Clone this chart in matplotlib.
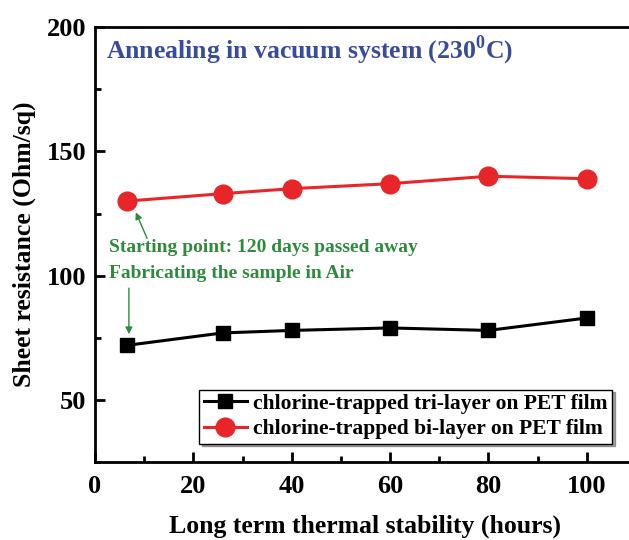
import numpy as np
import matplotlib
matplotlib.use("Agg")
import matplotlib.pyplot as plt
from matplotlib.ticker import MultipleLocator

hours = [6.5, 26, 40, 60, 80, 100]
tri_layer = [72, 77, 78, 79, 78, 83]
bi_layer = [130, 133, 135, 137, 140, 139]

plt.rcParams['font.family'] = ['Liberation Serif', 'DejaVu Serif']
plt.rcParams['font.weight'] = 'bold'
plt.rcParams['mathtext.fontset'] = 'custom'
plt.rcParams['mathtext.bf'] = 'Liberation Serif:bold'
plt.rcParams['mathtext.rm'] = 'Liberation Serif:bold'

fig = plt.figure(figsize=(6.29, 5.4), dpi=100)
ax = fig.add_axes([0.151, 0.144, 0.86, 0.806])

ax.plot(hours, tri_layer, color='black', lw=2.2, marker='s', ms=10.5,
        label='chlorine-trapped tri-layer on PET film')
ax.plot(hours, bi_layer, color='#e8262a', lw=2.2, marker='o', ms=13.5,
        label='chlorine-trapped bi-layer on PET film')

ax.set_xlim(0, 110)
ax.set_ylim(25, 200)
ax.xaxis.set_major_locator(MultipleLocator(20))
ax.xaxis.set_minor_locator(MultipleLocator(10))
ax.yaxis.set_major_locator(MultipleLocator(50))
ax.yaxis.set_minor_locator(MultipleLocator(25))
ax.tick_params(which='both', direction='in', width=2, labelsize=19)
ax.tick_params(axis='x', pad=9)
ax.tick_params(axis='y', pad=6)
ax.tick_params(which='major', length=7)
ax.tick_params(which='minor', length=4)
for sp in ax.spines.values():
    sp.set_linewidth(2)

ax.set_xlabel('Long term thermal stability (hours)', fontsize=18.5, fontweight='bold', labelpad=12)
ax.set_ylabel('Sheet resistance (Ohm/sq)', fontsize=18.5, fontweight='bold', labelpad=8)

ax.text(2.3, 190.5, r'Annealing in vacuum system (230$^{\mathbf{0}}$C)', color='#3a4a9c',
        fontsize=18.5, fontweight='bold', va='center')

green = '#2e8b3e'
ax.text(2.9, 111.5, 'Starting point: 120 days passed away', color=green, fontsize=14, fontweight='bold', va='center')
ax.text(2.9, 101, 'Fabricating the sample in Air', color=green, fontsize=14, fontweight='bold', va='center')
ax.annotate('', xy=(8.3, 125.5), xytext=(10.6, 115),
            arrowprops=dict(arrowstyle='-|>', color=green, lw=1, mutation_scale=10, shrinkA=0, shrinkB=0))
ax.annotate('', xy=(6.9, 76.5), xytext=(6.9, 95),
            arrowprops=dict(arrowstyle='-|>', color=green, lw=1, mutation_scale=10, shrinkA=0, shrinkB=0))

leg = ax.legend(loc='upper left', bbox_to_anchor=(0.193, 0.167), fontsize=15.5, frameon=True,
                fancybox=False, shadow=True, handlelength=2.0, handletextpad=0.3,
                borderpad=0.2, labelspacing=0.25, borderaxespad=0)
leg.get_frame().set_edgecolor('black')
leg.get_frame().set_linewidth(1)

fig.savefig('out.png', dpi=100)
